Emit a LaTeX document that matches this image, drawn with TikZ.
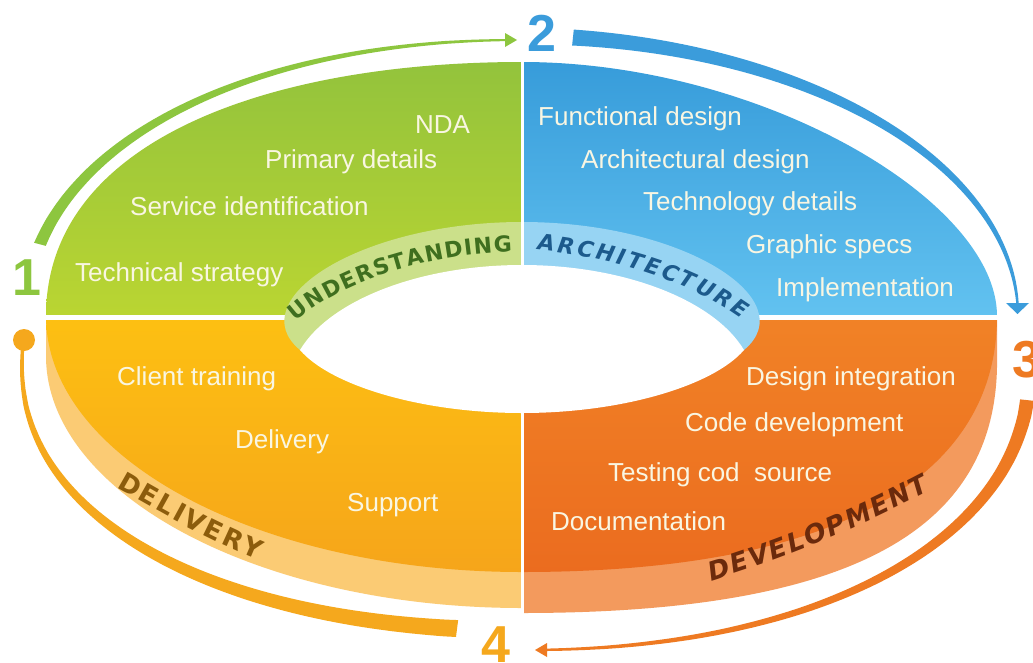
\documentclass[tikz,border=0pt]{standalone}
\usepackage{fontspec}
\setmainfont{Liberation Sans}
\newfontfamily\labfont{DejaVu Sans}
\usetikzlibrary{decorations.text}
\definecolor{gA}{HTML}{93C33C}
\definecolor{gB}{HTML}{BAD532}
\definecolor{gL}{HTML}{CBE08A}
\definecolor{bA}{HTML}{379CDA}
\definecolor{bB}{HTML}{62C2F0}
\definecolor{bL}{HTML}{97D4F3}
\definecolor{dA}{HTML}{FDC012}
\definecolor{dB}{HTML}{F6A51A}
\definecolor{dL}{HTML}{FBCB74}
\definecolor{vA}{HTML}{F18226}
\definecolor{vB}{HTML}{EB6C1F}
\definecolor{vL}{HTML}{F39A5D}
\definecolor{cream}{HTML}{F9F6E2}
\definecolor{arrG}{HTML}{8DC63F}
\definecolor{arrB}{HTML}{3B9CDB}
\definecolor{arrO}{HTML}{EE7A22}
\definecolor{arrY}{HTML}{F5A81D}
\definecolor{labG}{HTML}{3F6F1F}
\definecolor{labB}{HTML}{1C5A8C}
\definecolor{labD}{HTML}{8C5C0C}
\definecolor{labV}{HTML}{6B2A0C}
\pgfmathdeclarefunction{spow}{2}{\pgfmathparse{((#1)<0?(0-1):1)*pow(abs(#1)+0.00001,#2)}}
\newcommand\taperarc[1]{%
  \fill[#1] plot[domain=\ata:\atb,samples=90,variable=\pp]
      ({\acx+(\arx+\aW)*spow(cos(\pp),\aee)},{\acy+(\ary+\aW)*spow(sin(\pp),\aee)})
    -- plot[domain=\atb:\ata,samples=90,variable=\pp]
      ({\acx+(\arx-\aW)*spow(cos(\pp),\aee)},{\acy+(\ary-\aW)*spow(sin(\pp),\aee)}) -- cycle;}
\def\aW{(\awa+(\awb-\awa)*(\pp-\ata)/(\atb-\ata))}
\tikzset{
  item/.style={font=\fontsize{26}{30}\selectfont, text=cream, inner sep=0pt, anchor=base west},
  num/.style={font=\fontsize{52}{52}\selectfont\bfseries, inner sep=0pt},
}
\def\upL{(46,316) .. controls (46,140) and (270,62) .. (522,62) -- (522,316) -- cycle}
\def\upR{(522,62) .. controls (760,62) and (997,200) .. (997,316) -- (522,316) -- cycle}
\def\loL{(46,316) .. controls (46,458) and (259,572) .. (522,572) -- (522,316) -- cycle}
\def\loR{(522,316) -- (522,572) .. controls (850,572) and (997,470) .. (997,316) -- cycle}
\def\sideL{(46,318) -- (46,356) .. controls (46,494) and (259,608) .. (522,608) -- (522,318) -- cycle}
\def\sideR{(522,318) -- (522,613) .. controls (870,613) and (1000,520) .. (997,356) -- (997,318) -- cycle}
\def\bandL{(300,350) .. controls (240,300) and (360,222) .. (522,222) -- (522,350) -- cycle}
\def\bandR{(522,222) .. controls (684,222) and (804,300) .. (744,350) -- (522,350) -- cycle}
\def\holepath{(300,350) .. controls (330,300) and (420,265) .. (522,265) .. controls (624,265) and (714,300) .. (744,350) .. controls (714,385) and (624,413) .. (522,413) .. controls (420,413) and (330,385) .. (300,350) -- cycle}
\begin{document}
\begin{tikzpicture}[x=1pt,y=-1pt]
\useasboundingbox (0,0) rectangle (1033,662);
\clip (0,0) rectangle (1033,662);
\fill[white] (0,0) rectangle (1033,662);
% side band of the lower half
\fill[dL] \sideL;
\fill[vL] \sideR;
% top surface, lower half
\shade[top color=dA, bottom color=dB] \loL;
\shade[top color=vA, bottom color=vB] \loR;
% top surface, upper half
\shade[top color=gA, bottom color=gB] \upL;
\shade[top color=bA, bottom color=bB] \upR;
\draw[white, line width=5] (40,317) -- (1003,317);
% inner label band and hole
\fill[gL] \bandL;
\fill[bL] \bandR;
\fill[white] \holepath;
\draw[white, line width=3] (522,55) -- (522,620);
% arrows
\begin{scope}
\def\acx{521}\def\acy{316}\def\arx{495}\def\ary{276}\def\aee{0.95}
\def\ata{194}\def\atb{269}\def\awa{6}\def\awb{1}
\taperarc{arrG}
\end{scope}
\fill[arrG] (505,33) -- (517,40) -- (505,47) -- cycle;
\begin{scope}
\def\acx{521}\def\acy{316}\def\arx{497}\def\ary{280}\def\aee{1}
\def\ata{276}\def\atb{357.5}\def\awa{8}\def\awb{1.2}
\taperarc{arrB}
\end{scope}
\fill[arrB] (1006,303) -- (1029,303) -- (1017.5,314) -- cycle;
\begin{scope}
\def\acx{521}\def\acy{370}\def\arx{508}\def\ary{280}\def\aee{0.93}
\def\ata{5.2}\def\atb{87.7}\def\awa{7}\def\awb{1.2}
\taperarc{arrO}
\end{scope}
\fill[arrO] (547,643) -- (535,650) -- (547,657) -- cycle;
\begin{scope}
\def\acx{521}\def\acy{365}\def\arx{499}\def\ary{265}\def\aee{0.93}
\def\ata{96.3}\def\atb{184.5}\def\awa{8.5}\def\awb{1.5}
\taperarc{arrY}
\end{scope}
\fill[arrY] (24,340) circle (11);
% numbers
\node[num, text=arrG] (n1) at (27,278) {1};
\node[num, text=arrB] (n2) at (542,33) {2};
\node[num, text=arrO] (n3) at (1027,360) {3};
\node[num, text=arrY] (n4) at (496,645) {4};
% band labels
\path[decorate, decoration={text along path, text align={fit to path}, text color=labG,
  text={|\labfont\fontsize{22}{26}\selectfont\bfseries|UNDERSTANDING}}]
  (296,322) .. controls (330,290) and (410,255) .. (512,252);
\path[decorate, decoration={text along path, text align={fit to path}, text color=labB,
  text={|\labfont\fontsize{22}{26}\selectfont\bfseries\itshape|ARCHITECTURE}}]
  (537,250) .. controls (600,256) and (680,275) .. (742,319);
\path[decorate, decoration={text along path, text align={fit to path}, text color=labD,
  text={|\labfont\fontsize{26}{30}\selectfont\bfseries|DELIVERY}}]
  (116,487) .. controls (160,512) and (200,536) .. (258,560);
\path[decorate, decoration={text along path, text align={fit to path}, text color=labV,
  text={|\labfont\fontsize{26}{30}\selectfont\bfseries\itshape|DEVELOPMENT}}]
  (711,581) .. controls (790,557) and (860,527) .. (930,490);
% items
\node[item] (u1) at (415,133) {NDA};
\node[item] (u2) at (265,168) {Primary details};
\node[item] (u3) at (130,215) {Service identification};
\node[item] (u4) at (75,281) {Technical strategy};
\node[item] (a1) at (538,125) {Functional design};
\node[item] (a2) at (581,168) {Architectural design};
\node[item] (a3) at (643,210) {Technology details};
\node[item] (a4) at (746,253) {Graphic specs};
\node[item] (a5) at (776,296) {Implementation};
\node[item] (d1) at (117,385) {Client training};
\node[item] (d2) at (235,448) {Delivery};
\node[item] (d3) at (347,511) {Support};
\node[item] (v1) at (746,385) {Design integration};
\node[item] (v2) at (685,431) {Code development};
\node[item] (v3) at (608,481) {Testing cod~~source};
\node[item] (v4) at (551,530) {Documentation};
\end{tikzpicture}
\end{document}
